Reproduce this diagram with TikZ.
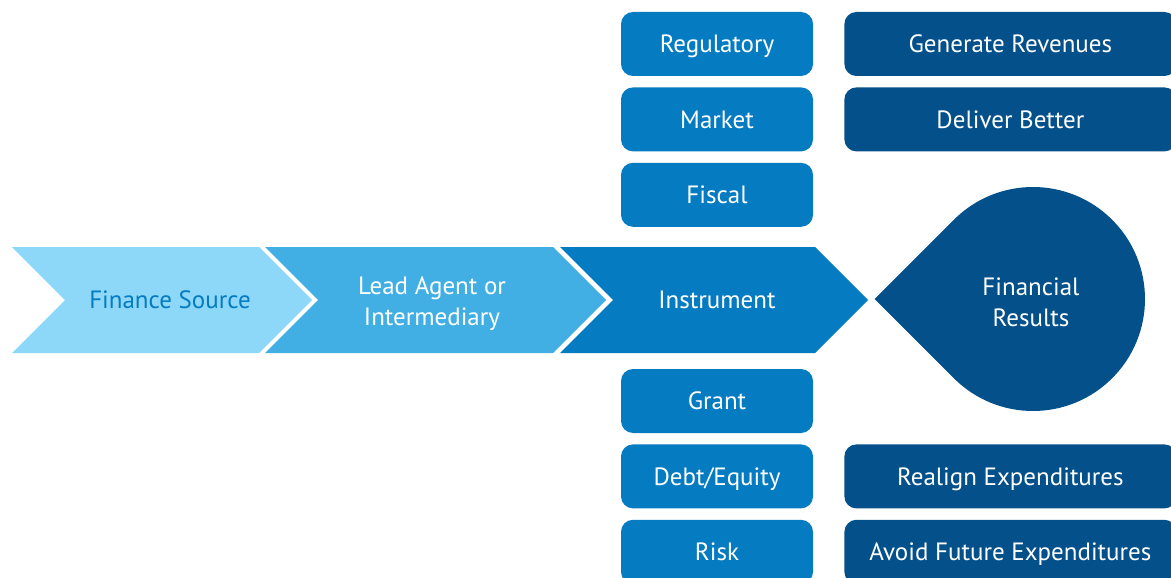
\documentclass[tikz,border=0pt]{standalone}
\usepackage{fontspec}
\setmainfont{PT Sans}
\usetikzlibrary{positioning,calc}
\definecolor{srclight}{HTML}{8DD8F8}
\definecolor{leadblue}{HTML}{41AFE3}
\definecolor{instblue}{HTML}{057BC1}
\definecolor{resdark}{HTML}{03508B}

\begin{document}
\begin{tikzpicture}[x=1pt,y=-1pt,
        font=\fontsize{25}{31}\selectfont,
        node distance=11pt and 31pt,
        box/.style={rectangle, rounded corners=12pt, fill=instblue, text=white,
                    minimum width=192pt, minimum height=64pt, inner sep=0pt,
                    text height=17.5pt, text depth=0pt},
        goal/.style={box, fill=resdark, minimum width=332pt},
        caption/.style={align=center, text=white},]
    \useasboundingbox (0,0) rectangle (1171,578);
    \clip (0,0) rectangle (1171,578);

    % chevrons
    \fill[srclight] (12,247) -- (259,247) -- (312,300) -- (259,353) -- (12,353) -- (65,300) -- cycle;
    \fill[leadblue] (265,247) -- (553,247) -- (606,300) -- (553,353) -- (265,353) -- (318,300) -- cycle;
    \fill[instblue] (560,247) -- (815,247) -- (868,300) -- (815,353) -- (560,353) -- (613,300) -- cycle;

    % drop
    \coordinate (c) at (1033,299);
    \fill[resdark] (874.6,299) -- ($(c)+(135:112)$) arc[start angle=135, end angle=-135, radius=112] -- cycle;

    \node[caption, text=instblue] (src) at (170,300) {Finance Source};
    \node[caption] (lead) at (432,304) {Lead Agent or\\Intermediary};
    \node[caption] (inst) at (717,300) {Instrument};
    \node[caption] (fin) at (1031,302) {Financial\\Results};

    % instrument types
    \node[box] (reg) at (717,44) {Regulatory};
    \node[box, below=of reg] (mkt) {Market};
    \node[box, below=of mkt] (fis) {Fiscal};
    \node[box] (grant) at (717,401) {Grant};
    \node[box, below=of grant] (debt) {Debt/Equity};
    \node[box, below=of debt] (risk) {Risk};

    % results
    \node[goal, right=of reg] (gen) {Generate Revenues};
    \node[goal, right=of mkt] (dlv) {Deliver Better};
    \node[goal, right=of debt] (realign) {Realign Expenditures};
    \node[goal, right=of risk] (avoid) {Avoid Future Expenditures};
\end{tikzpicture}
\end{document}
